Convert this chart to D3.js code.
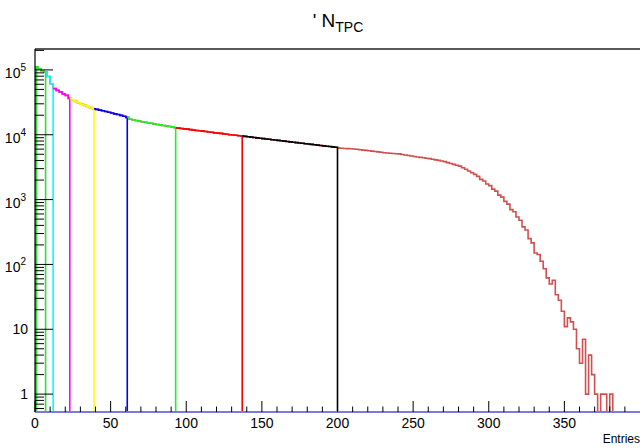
<!DOCTYPE html>
<html>
<head>
<meta charset="utf-8">
<script src="https://cdn.jsdelivr.net/npm/d3@7"></script>
<style>
  body { margin: 0; background: #fff; }
  svg { display: block; font-family: "Liberation Sans", Arial, sans-serif; }
</style>
</head>
<body>
<svg id="chart" width="640" height="448"></svg>
<script>
// bin contents, bin width 2, starting at 0
const binWidth = 2;
const counts = [
    112000, 104000, 97000, 93000, 79000,
    61000, 51500, 48300, 45800, 42700,
    40500, 36400, 34500, 32700, 31000,
    29600, 28400, 27200, 26200, 25100,
    24600, 24000, 23400, 22800, 22200,
    21600, 21000, 20500, 19900, 19300,
    18500, 17300, 17000, 16600, 16300,
    15900, 15600, 15300, 15000, 14700,
    14400, 14200, 13900, 13700, 13400,
    13200, 12850, 12650, 12500, 12300,
    12200, 12000, 11800, 11650, 11500,
    11350, 11200, 11000, 10900, 10700,
    10600, 10500, 10300, 10200, 10000,
    9930, 9800, 9660, 9550, 9430,
    9310, 9190, 9070, 8950, 8840,
    8720, 8610, 8500, 8390, 8280,
    8180, 8070, 7970, 7870, 7770,
    7670, 7570, 7470, 7380, 7280,
    7190, 7100, 7010, 6920, 6830,
    6740, 6660, 6570, 6490, 6400,
    6220, 6180, 6150, 6110, 6070,
    6040, 5960, 5880, 5800, 5730,
    5660, 5590, 5510, 5440, 5360,
    5280, 5240, 5190, 5150, 5100,
    5060, 4960, 4870, 4790, 4700,
    4610, 4540, 4480, 4410, 4350,
    4280, 4190, 4100, 4020, 3930,
    3850, 3720, 3600, 3490, 3380,
    3280, 3100, 2930, 2760, 2600,
    2450, 2280, 2050, 1930, 1740,
    1640, 1450, 1350, 1170, 1090,
    940, 850, 700, 650, 540,
    480, 380, 340, 250, 215,
    150, 142, 112, 86, 62,
    50, 57, 34, 28, 19,
    11, 15, 13, 10, 5,
    3, 7, 1, 4, 2,
    1, 0, 1, 1, 0,
    1, 0, 0, 0, 0
];

// sub-ranges drawn on top of the full histogram
const cuts = [1, 7, 12, 23, 39, 61, 93, 137, 200];
const cutColors = ['#33dd33', '#00ffff', '#ff00ff', '#ffff00', '#0000ff', '#22ee22', '#ff0000', '#000000'];

const xTicksMajor = [0, 50, 100, 150, 200, 250, 300, 350];
const yTicksMajor = [1, 10, 100, 1000, 10000, 100000];
const yLabels = [['1', ''], ['10', ''], ['10', '2'], ['10', '3'], ['10', '4'], ['10', '5']];

const xMin = 0, xMax = 400;
const yMin = 0.53, yMax = 2.1e5;

const fx0 = 35, fx1 = 640, fy0 = 49, fy1 = 412;

const svg = d3.select('#chart');

const x = d3.scaleLinear().domain([xMin, xMax]).range([fx0, fx1]);
const y = d3.scaleLog().domain([yMin, yMax]).range([fy1, fy0]);

svg.append('defs').append('clipPath').attr('id', 'frame')
    .append('rect')
    .attr('x', fx0).attr('y', fy0 - 1)
    .attr('width', fx1 - fx0).attr('height', fy1 - fy0 + 2);

const plot = svg.append('g').attr('clip-path', 'url(#frame)');

const line = d3.line().x(d => x(d[0])).y(d => y(d[1]));

const stepPoints = (lo, hi, leftDrop) => {
    const pts = [];
    for (let i = 0; i * binWidth < hi; i++) {
        const a = Math.max(i * binWidth, lo);
        const b = Math.min((i + 1) * binWidth, hi);
        if (b <= a) continue;
        const v = Math.max(counts[i] || 0, yMin);
        pts.push([a, v], [b, v]);
    }
    if (leftDrop) pts.unshift([pts[0][0], yMin]);
    pts.push([pts[pts.length - 1][0], yMin]);
    return pts;
};

// full histogram
plot.append('path')
    .attr('d', line(stepPoints(xMin, xMax, true)))
    .attr('fill', 'none')
    .attr('stroke', '#d05050')
    .attr('stroke-width', 1.6);

// coloured slices
cutColors.forEach((c, i) => {
    plot.append('path')
        .attr('d', line(stepPoints(cuts[i], cuts[i + 1], i === 0)))
        .attr('fill', 'none')
        .attr('stroke', c)
        .attr('stroke-width', 1.6);
});

// empty histogram along the bottom
plot.append('path')
    .attr('d', line([[xMin, yMin], [xMax, yMin]]))
    .attr('stroke', '#7b7bdb')
    .attr('stroke-width', 2);

// x axis ticks (pointing up)
const xAxis = svg.append('g').attr('transform', `translate(0,${fy1})`);
xAxis.selectAll('.minor')
    .data(d3.range(0, 401, 10).filter(v => v % 50 !== 0))
    .enter().append('line')
    .attr('x1', d => x(d)).attr('x2', d => x(d))
    .attr('y1', 0).attr('y2', -5.5)
    .attr('stroke', '#000');
xAxis.selectAll('.major')
    .data(xTicksMajor)
    .enter().append('line')
    .attr('x1', d => x(d)).attr('x2', d => x(d))
    .attr('y1', 0).attr('y2', -11)
    .attr('stroke', '#000');
xAxis.selectAll('text')
    .data(xTicksMajor)
    .enter().append('text')
    .attr('x', d => x(d))
    .attr('y', 16)
    .attr('text-anchor', 'middle')
    .attr('font-size', 14)
    .attr('fill', '#000')
    .text(d => d);

// y axis ticks (pointing right)
const yMinor = [];
[0.1, 1, 10, 100, 1000, 10000, 100000].forEach(dec => {
    for (let k = 2; k <= 9; k++) {
        const v = dec * k;
        if (v >= yMin && v <= yMax) yMinor.push(v);
    }
});
const yAxis = svg.append('g');
yAxis.selectAll('.minor')
    .data(yMinor)
    .enter().append('line')
    .attr('x1', fx0).attr('x2', fx0 + 9)
    .attr('y1', d => y(d)).attr('y2', d => y(d))
    .attr('stroke', '#000');
yAxis.selectAll('.major')
    .data(yTicksMajor)
    .enter().append('line')
    .attr('x1', fx0).attr('x2', fx0 + 18)
    .attr('y1', d => y(d)).attr('y2', d => y(d))
    .attr('stroke', '#000');
yTicksMajor.forEach((v, i) => {
    const [base, exp] = yLabels[i];
    const t = yAxis.append('text')
        .attr('x', exp ? 26 : 28)
        .attr('y', y(v) + (exp ? 8 : 5))
        .attr('text-anchor', 'end')
        .attr('font-size', 14)
        .attr('fill', '#000');
    t.append('tspan').text(base);
    if (exp) t.append('tspan').attr('dy', -7).attr('font-size', 10).text(exp);
});

// frame
svg.append('line')
    .attr('x1', fx0).attr('x2', fx1)
    .attr('y1', fy0).attr('y2', fy0)
    .attr('stroke', '#222').attr('stroke-width', 1.5);
svg.append('line')
    .attr('x1', fx0).attr('x2', fx0)
    .attr('y1', fy0).attr('y2', fy1)
    .attr('stroke', '#000').attr('stroke-width', 1.2);

// title
const title = svg.append('text')
    .attr('x', 338)
    .attr('y', 27)
    .attr('text-anchor', 'middle')
    .attr('font-size', 19)
    .attr('fill', '#000');
title.append('tspan').text('\' N');
title.append('tspan').attr('dy', 5).attr('font-size', 14).text('TPC');

svg.append('text')
    .attr('x', 640)
    .attr('y', 443)
    .attr('text-anchor', 'end')
    .attr('font-size', 12)
    .attr('fill', '#000')
    .text('Entries');
</script>
</body>
</html>
